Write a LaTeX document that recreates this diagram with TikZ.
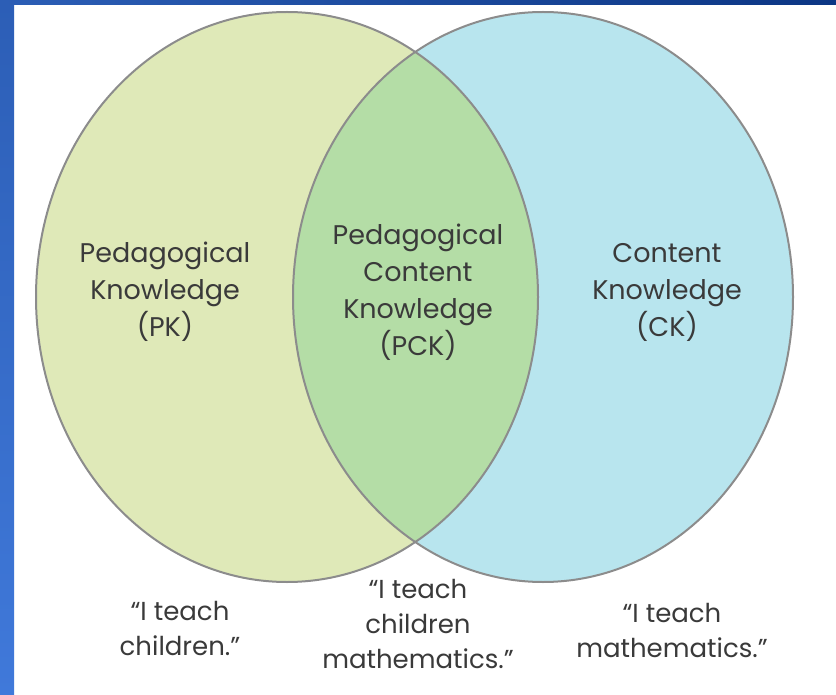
\documentclass[tikz,border=0pt]{standalone}
\usepackage{fontspec}
\setmainfont{Poppins}
\begin{document}
\definecolor{pkfill}{HTML}{DFE9B8}
\definecolor{ckfill}{HTML}{B8E5EE}
\definecolor{pckfill}{HTML}{B4DDA6}
\definecolor{rim}{HTML}{8C8C8C}
\definecolor{ink}{HTML}{3A3A3A}
\definecolor{frameA}{HTML}{2C5EB6}
\definecolor{frameB}{HTML}{0C3684}
\definecolor{frameC}{HTML}{4079DA}
\begin{tikzpicture}[x=1pt,y=-1pt,
  label text/.style={text=ink,align=center,font=\fontsize{27}{37}\selectfont,inner sep=0pt},
  quote text/.style={text=ink,align=center,font=\fontsize{26}{35}\selectfont,inner sep=0pt},
  rimline/.style={draw=rim,line width=2pt}]
\useasboundingbox (0,0) rectangle (836,695);
% slide frame
\fill[white] (0,0) rectangle (836,695);
\shade[top color=frameA,bottom color=frameC] (0,0) rectangle (14,695);
\shade[left color=frameA,right color=frameB] (0,0) rectangle (836,5);
% the two knowledge domains
\fill[pkfill] (287,297) ellipse [x radius=251,y radius=285];
\fill[ckfill] (543,297) ellipse [x radius=250,y radius=285];
\begin{scope}
  \clip (287,297) ellipse [x radius=251,y radius=285];
  \fill[pckfill] (543,297) ellipse [x radius=250,y radius=285];
\end{scope}
\draw[rimline] (287,297) ellipse [x radius=251,y radius=285];
\draw[rimline] (543,297) ellipse [x radius=250,y radius=285];
% labels
\node[label text] (pk) at (165,292) {Pedagogical\\Knowledge\\(PK)};
\node[label text] (pck) at (418,292) {Pedagogical\\Content\\Knowledge\\(PCK)};
\node[label text] (ck) at (667,292) {Content\\Knowledge\\(CK)};
% quotes
\node[quote text] (qpk) at (180,628) {“I teach\\children.”};
\node[quote text] (qpck) at (418,624) {“I teach\\children\\mathematics.”};
\node[quote text] (qck) at (672,630) {“I teach\\mathematics.”};
\end{tikzpicture}
\end{document}
